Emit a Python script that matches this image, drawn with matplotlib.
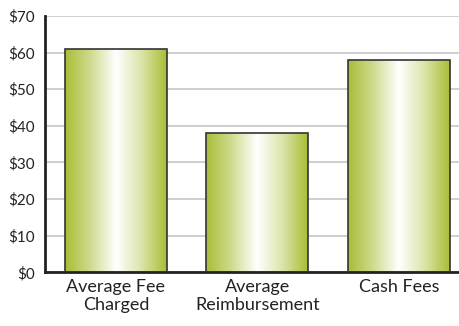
import numpy as np
import matplotlib.pyplot as plt
from matplotlib.colors import LinearSegmentedColormap
from matplotlib.patches import Rectangle

categories = ["Average Fee\nCharged", "Average\nReimbursement", "Cash Fees"]
fees = [61, 38, 58]
yticks = [0, 10, 20, 30, 40, 50, 60, 70]

plt.rcParams['font.family'] = ['Lato', 'DejaVu Sans']

fig = plt.figure(figsize=(4.6, 3.26), dpi=100)
ax = fig.add_axes([45 / 460, 1 - 272.3 / 326, 1 - 45 / 460, 256.3 / 326])

# green -> white -> green sheen across each bar
cmap = LinearSegmentedColormap.from_list(
    "sheen", ["#aabd36", "#d0db90", "#ffffff", "#dce4aa", "#aabd36"])
grad = np.linspace(0, 1, 256).reshape(1, -1)

width = 0.72
x = np.arange(len(categories))
bars = ax.bar(x, fees, width=width, color="none", edgecolor="#333333",
              linewidth=1.2, zorder=3)
for bar in bars:
    x0, y0 = bar.get_x(), bar.get_y()
    w, h = bar.get_width(), bar.get_height()
    im = ax.imshow(grad, cmap=cmap, aspect="auto", extent=(x0, x0 + w, y0, y0 + h),
                   zorder=2, interpolation="bicubic")
    im.set_clip_path(Rectangle((x0, y0), w, h, transform=ax.transData))

ax.set_xlim(-0.5, 2.43)
ax.set_ylim(0, 70)
ax.set_yticks(yticks)
ax.set_yticklabels([f"${v}" for v in yticks], fontsize=11)
ax.set_xticks(x)
ax.set_xticklabels(categories, fontsize=13, linespacing=1.1)
ax.tick_params(axis="both", length=0, colors="#222222")
ax.tick_params(axis="y", pad=7)
ax.tick_params(axis="x", pad=5)

ax.yaxis.grid(True, color="#cccccc", linewidth=1.3, zorder=0)
ax.set_axisbelow(True)
for s in ["top", "right"]:
    ax.spines[s].set_visible(False)
ax.spines["left"].set_linewidth(2)
ax.spines["bottom"].set_linewidth(2)
ax.spines["left"].set_color("#222222")
ax.spines["bottom"].set_color("#222222")

fig.savefig("out.png", dpi=100)
